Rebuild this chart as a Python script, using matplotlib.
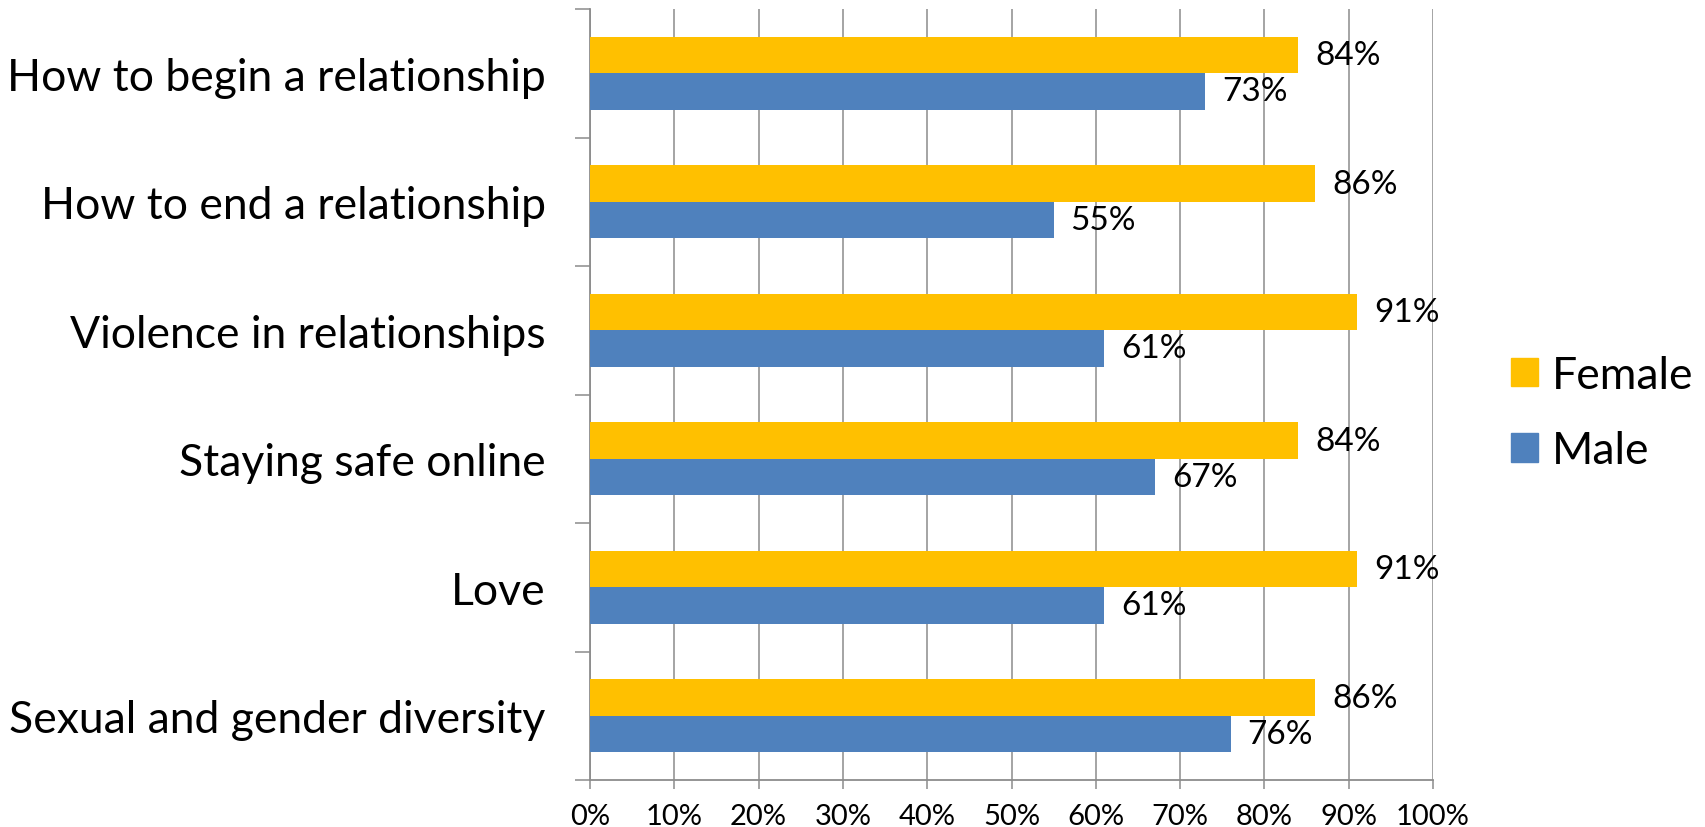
import matplotlib
matplotlib.use("Agg")
import matplotlib.pyplot as plt
from matplotlib.patches import Patch
import numpy as np

plt.rcParams['font.family'] = ['Lato', 'DejaVu Sans']

topics = [
    "How to begin a relationship",
    "How to end a relationship",
    "Violence in relationships",
    "Staying safe online",
    "Love",
    "Sexual and gender diversity",
]
female = [84, 86, 91, 84, 91, 86]
male = [73, 55, 61, 67, 61, 76]
x_ticks = [0, 10, 20, 30, 40, 50, 60, 70, 80, 90, 100]

FEMALE_C = "#FFC000"
MALE_C = "#4F81BD"
GRID_C = "#8C8C8C"

fig = plt.figure(figsize=(17.05, 8.28), dpi=100)
ax = fig.add_axes([590 / 1705, 1 - 781 / 828, (1433 - 590) / 1705, (781 - 10) / 828])

n = len(topics)
y = np.arange(n)[::-1].astype(float)  # first topic at the top
h = 0.284

fb = ax.barh(y + h / 2, female, height=h, color=FEMALE_C, zorder=3)
mb = ax.barh(y - h / 2, male, height=h, color=MALE_C, zorder=3)

for bars, vals in ((fb, female), (mb, male)):
    for b, v in zip(bars, vals):
        ax.annotate(f"{v}%", (v, b.get_y() + b.get_height() / 2),
                    xytext=(12.2, 0), textcoords="offset points",
                    va="center", ha="left", fontsize=24, zorder=4)

ax.set_xlim(0, 100)
ax.set_ylim(-0.5, n - 0.5)
ax.set_xticks(x_ticks)
ax.set_xticklabels([f"{t}%" for t in x_ticks], fontsize=21)
ax.xaxis.grid(True, color=GRID_C, linewidth=1.1, zorder=0)
ax.set_axisbelow(True)

ax.set_yticks(y)
ax.set_yticklabels(topics, fontsize=32)
ax.set_yticks(np.arange(n + 1) - 0.5, minor=True)
ax.tick_params(axis="y", which="major", length=0, pad=32)
ax.tick_params(axis="y", which="minor", length=10.8, width=1.1, color=GRID_C, direction="out")
ax.tick_params(axis="x", length=6.5, width=1.1, color=GRID_C, pad=10, direction="out")

for s in ("top", "right"):
    ax.spines[s].set_visible(False)
for s in ("left", "bottom"):
    ax.spines[s].set_color(GRID_C)
    ax.spines[s].set_linewidth(1.3)

handles = [Patch(color=FEMALE_C, label="Female"), Patch(color=MALE_C, label="Male")]
fig.legend(handles=handles, loc="center left", bbox_to_anchor=(1511 / 1705, 1 - 414 / 828),
           frameon=False, fontsize=32, handlelength=0.61, handleheight=0.61,
           handletextpad=0.32, labelspacing=0.77, borderpad=0, borderaxespad=0)

fig.savefig("out.png", dpi=100)
